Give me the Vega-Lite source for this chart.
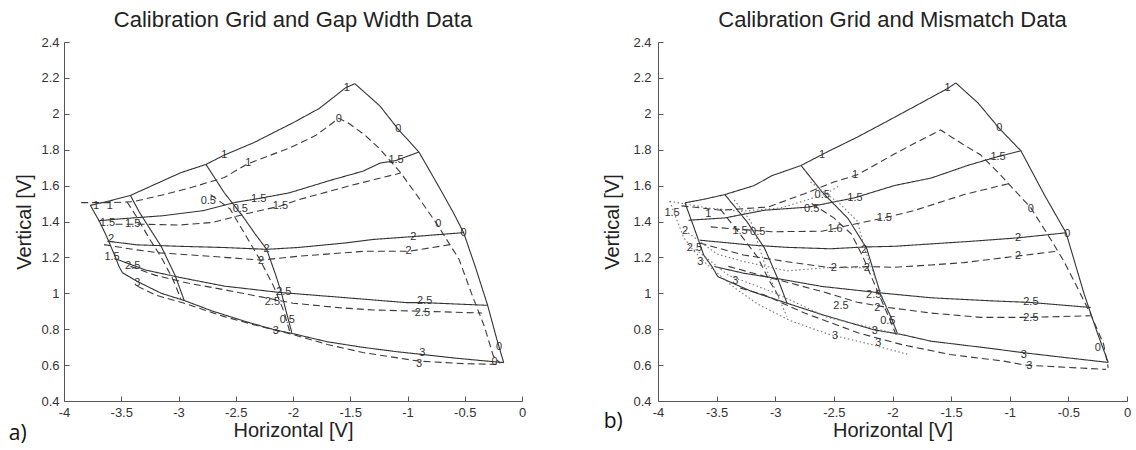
{
  "$schema": "https://vega.github.io/schema/vega-lite/v6.json",
  "background": "white",
  "padding": {"left": 8, "top": 9, "right": 2, "bottom": 2},
  "bounds": "flush",
  "spacing": 136,
  "config": {
    "view": {"stroke": null},
    "axis": {
      "grid": false,
      "domainColor": "#555",
      "tickColor": "#555",
      "tickSize": -5,
      "labelFont": "Liberation Sans",
      "labelFontSize": 13,
      "labelColor": "#333",
      "labelFlush": false,
      "labelOverlap": false,
      "titleFont": "Liberation Sans",
      "titleFontSize": 20,
      "titleFontWeight": "normal",
      "titleColor": "#222"
    },
    "title": {"font": "Liberation Sans", "fontSize": 22, "fontWeight": "normal", "color": "#222", "anchor": "middle", "frame": "group", "offset": 4}
  },
  "datasets": {
    "lines": [
      {"panel":"a","line":"top","set":"grid","n":1,"x":-3.77,"y":1.49},
      {"panel":"a","line":"top","set":"grid","n":2,"x":-3.6,"y":1.515},
      {"panel":"a","line":"top","set":"grid","n":3,"x":-3.42,"y":1.545},
      {"panel":"a","line":"top","set":"grid","n":4,"x":-3.23,"y":1.6},
      {"panel":"a","line":"top","set":"grid","n":5,"x":-2.98,"y":1.672},
      {"panel":"a","line":"top","set":"grid","n":6,"x":-2.76,"y":1.718},
      {"panel":"a","line":"top","set":"grid","n":7,"x":-2.6,"y":1.77},
      {"panel":"a","line":"top","set":"grid","n":8,"x":-2.34,"y":1.84},
      {"panel":"a","line":"top","set":"grid","n":9,"x":-2.0,"y":1.95},
      {"panel":"a","line":"top","set":"grid","n":10,"x":-1.77,"y":2.03},
      {"panel":"a","line":"top","set":"grid","n":11,"x":-1.54,"y":2.145},
      {"panel":"a","line":"top","set":"grid","n":12,"x":-1.46,"y":2.168},
      {"panel":"a","line":"right","set":"grid","n":1,"x":-1.46,"y":2.168},
      {"panel":"a","line":"right","set":"grid","n":2,"x":-1.24,"y":2.043},
      {"panel":"a","line":"right","set":"grid","n":3,"x":-1.08,"y":1.913},
      {"panel":"a","line":"right","set":"grid","n":4,"x":-0.9,"y":1.787},
      {"panel":"a","line":"right","set":"grid","n":5,"x":-0.73,"y":1.598},
      {"panel":"a","line":"right","set":"grid","n":6,"x":-0.6,"y":1.45},
      {"panel":"a","line":"right","set":"grid","n":7,"x":-0.51,"y":1.338},
      {"panel":"a","line":"right","set":"grid","n":8,"x":-0.41,"y":1.152},
      {"panel":"a","line":"right","set":"grid","n":9,"x":-0.3,"y":0.933},
      {"panel":"a","line":"right","set":"grid","n":10,"x":-0.22,"y":0.744},
      {"panel":"a","line":"right","set":"grid","n":11,"x":-0.16,"y":0.614},
      {"panel":"a","line":"left","set":"grid","n":1,"x":-3.77,"y":1.49},
      {"panel":"a","line":"left","set":"grid","n":2,"x":-3.69,"y":1.4},
      {"panel":"a","line":"left","set":"grid","n":3,"x":-3.63,"y":1.32},
      {"panel":"a","line":"left","set":"grid","n":4,"x":-3.59,"y":1.26},
      {"panel":"a","line":"left","set":"grid","n":5,"x":-3.55,"y":1.2},
      {"panel":"a","line":"left","set":"grid","n":6,"x":-3.52,"y":1.15},
      {"panel":"a","line":"left","set":"grid","n":7,"x":-3.49,"y":1.115},
      {"panel":"a","line":"bottom","set":"grid","n":1,"x":-3.49,"y":1.115},
      {"panel":"a","line":"bottom","set":"grid","n":2,"x":-3.36,"y":1.066},
      {"panel":"a","line":"bottom","set":"grid","n":3,"x":-3.15,"y":1.0},
      {"panel":"a","line":"bottom","set":"grid","n":4,"x":-2.95,"y":0.96},
      {"panel":"a","line":"bottom","set":"grid","n":5,"x":-2.7,"y":0.9},
      {"panel":"a","line":"bottom","set":"grid","n":6,"x":-2.4,"y":0.84},
      {"panel":"a","line":"bottom","set":"grid","n":7,"x":-2.15,"y":0.795},
      {"panel":"a","line":"bottom","set":"grid","n":8,"x":-2.0,"y":0.775},
      {"panel":"a","line":"bottom","set":"grid","n":9,"x":-1.7,"y":0.73},
      {"panel":"a","line":"bottom","set":"grid","n":10,"x":-1.4,"y":0.7},
      {"panel":"a","line":"bottom","set":"grid","n":11,"x":-1.1,"y":0.675},
      {"panel":"a","line":"bottom","set":"grid","n":12,"x":-0.88,"y":0.66},
      {"panel":"a","line":"bottom","set":"grid","n":13,"x":-0.6,"y":0.64},
      {"panel":"a","line":"bottom","set":"grid","n":14,"x":-0.3,"y":0.622},
      {"panel":"a","line":"bottom","set":"grid","n":15,"x":-0.16,"y":0.614},
      {"panel":"a","line":"v2","set":"grid","n":1,"x":-3.42,"y":1.545},
      {"panel":"a","line":"v2","set":"grid","n":2,"x":-3.34,"y":1.45},
      {"panel":"a","line":"v2","set":"grid","n":3,"x":-3.27,"y":1.38},
      {"panel":"a","line":"v2","set":"grid","n":4,"x":-3.15,"y":1.26},
      {"panel":"a","line":"v2","set":"grid","n":5,"x":-3.03,"y":1.1},
      {"panel":"a","line":"v2","set":"grid","n":6,"x":-2.95,"y":0.96},
      {"panel":"a","line":"v3","set":"grid","n":1,"x":-2.76,"y":1.718},
      {"panel":"a","line":"v3","set":"grid","n":2,"x":-2.6,"y":1.56},
      {"panel":"a","line":"v3","set":"grid","n":3,"x":-2.44,"y":1.43},
      {"panel":"a","line":"v3","set":"grid","n":4,"x":-2.33,"y":1.33},
      {"panel":"a","line":"v3","set":"grid","n":5,"x":-2.23,"y":1.245},
      {"panel":"a","line":"v3","set":"grid","n":6,"x":-2.15,"y":1.1},
      {"panel":"a","line":"v3","set":"grid","n":7,"x":-2.1,"y":1.0},
      {"panel":"a","line":"v3","set":"grid","n":8,"x":-2.06,"y":0.9},
      {"panel":"a","line":"v3","set":"grid","n":9,"x":-2.01,"y":0.78},
      {"panel":"a","line":"h15","set":"grid","n":1,"x":-3.7,"y":1.404},
      {"panel":"a","line":"h15","set":"grid","n":2,"x":-3.5,"y":1.415},
      {"panel":"a","line":"h15","set":"grid","n":3,"x":-3.14,"y":1.432},
      {"panel":"a","line":"h15","set":"grid","n":4,"x":-2.79,"y":1.46},
      {"panel":"a","line":"h15","set":"grid","n":5,"x":-2.5,"y":1.507},
      {"panel":"a","line":"h15","set":"grid","n":6,"x":-2.3,"y":1.528},
      {"panel":"a","line":"h15","set":"grid","n":7,"x":-2.03,"y":1.56},
      {"panel":"a","line":"h15","set":"grid","n":8,"x":-1.67,"y":1.63},
      {"panel":"a","line":"h15","set":"grid","n":9,"x":-1.39,"y":1.68},
      {"panel":"a","line":"h15","set":"grid","n":10,"x":-1.24,"y":1.725},
      {"panel":"a","line":"h15","set":"grid","n":11,"x":-1.1,"y":1.74},
      {"panel":"a","line":"h15","set":"grid","n":12,"x":-0.9,"y":1.787},
      {"panel":"a","line":"h2","set":"grid","n":1,"x":-3.62,"y":1.29},
      {"panel":"a","line":"h2","set":"grid","n":2,"x":-3.36,"y":1.27},
      {"panel":"a","line":"h2","set":"grid","n":3,"x":-3.0,"y":1.262},
      {"panel":"a","line":"h2","set":"grid","n":4,"x":-2.6,"y":1.255},
      {"panel":"a","line":"h2","set":"grid","n":5,"x":-2.23,"y":1.245},
      {"panel":"a","line":"h2","set":"grid","n":6,"x":-1.96,"y":1.255},
      {"panel":"a","line":"h2","set":"grid","n":7,"x":-1.55,"y":1.28},
      {"panel":"a","line":"h2","set":"grid","n":8,"x":-1.3,"y":1.3},
      {"panel":"a","line":"h2","set":"grid","n":9,"x":-0.95,"y":1.316},
      {"panel":"a","line":"h2","set":"grid","n":10,"x":-0.51,"y":1.338},
      {"panel":"a","line":"h25","set":"grid","n":1,"x":-3.54,"y":1.19},
      {"panel":"a","line":"h25","set":"grid","n":2,"x":-3.29,"y":1.13},
      {"panel":"a","line":"h25","set":"grid","n":3,"x":-3.0,"y":1.09},
      {"panel":"a","line":"h25","set":"grid","n":4,"x":-2.6,"y":1.04},
      {"panel":"a","line":"h25","set":"grid","n":5,"x":-2.12,"y":1.005},
      {"panel":"a","line":"h25","set":"grid","n":6,"x":-1.55,"y":0.976},
      {"panel":"a","line":"h25","set":"grid","n":7,"x":-1.01,"y":0.948},
      {"panel":"a","line":"h25","set":"grid","n":8,"x":-0.86,"y":0.948},
      {"panel":"a","line":"h25","set":"grid","n":9,"x":-0.3,"y":0.933},
      {"panel":"a","line":"d10","set":"data1","n":1,"x":-3.85,"y":1.505},
      {"panel":"a","line":"d10","set":"data1","n":2,"x":-3.6,"y":1.505},
      {"panel":"a","line":"d10","set":"data1","n":3,"x":-3.4,"y":1.51},
      {"panel":"a","line":"d10","set":"data1","n":4,"x":-3.16,"y":1.545},
      {"panel":"a","line":"d10","set":"data1","n":5,"x":-2.91,"y":1.585},
      {"panel":"a","line":"d10","set":"data1","n":6,"x":-2.6,"y":1.645},
      {"panel":"a","line":"d10","set":"data1","n":7,"x":-2.4,"y":1.72},
      {"panel":"a","line":"d10","set":"data1","n":8,"x":-2.03,"y":1.81},
      {"panel":"a","line":"d10","set":"data1","n":9,"x":-1.8,"y":1.88},
      {"panel":"a","line":"d10","set":"data1","n":10,"x":-1.6,"y":1.975},
      {"panel":"a","line":"d10","set":"data1","n":11,"x":-1.52,"y":1.95},
      {"panel":"a","line":"d10","set":"data1","n":12,"x":-1.37,"y":1.88},
      {"panel":"a","line":"d10","set":"data1","n":13,"x":-1.24,"y":1.803},
      {"panel":"a","line":"d10","set":"data1","n":14,"x":-1.06,"y":1.672},
      {"panel":"a","line":"d10","set":"data1","n":15,"x":-0.9,"y":1.53},
      {"panel":"a","line":"d10","set":"data1","n":16,"x":-0.74,"y":1.383},
      {"panel":"a","line":"d10","set":"data1","n":17,"x":-0.55,"y":1.19},
      {"panel":"a","line":"d10","set":"data1","n":18,"x":-0.43,"y":0.98},
      {"panel":"a","line":"d10","set":"data1","n":19,"x":-0.33,"y":0.818},
      {"panel":"a","line":"d10","set":"data1","n":20,"x":-0.25,"y":0.65},
      {"panel":"a","line":"d10","set":"data1","n":21,"x":-0.19,"y":0.61},
      {"panel":"a","line":"d15","set":"data1","n":1,"x":-3.55,"y":1.385},
      {"panel":"a","line":"d15","set":"data1","n":2,"x":-3.33,"y":1.385},
      {"panel":"a","line":"d15","set":"data1","n":3,"x":-3.0,"y":1.38},
      {"panel":"a","line":"d15","set":"data1","n":4,"x":-2.7,"y":1.395},
      {"panel":"a","line":"d15","set":"data1","n":5,"x":-2.43,"y":1.44},
      {"panel":"a","line":"d15","set":"data1","n":6,"x":-2.11,"y":1.486},
      {"panel":"a","line":"d15","set":"data1","n":7,"x":-1.96,"y":1.52},
      {"panel":"a","line":"d15","set":"data1","n":8,"x":-1.5,"y":1.6},
      {"panel":"a","line":"d15","set":"data1","n":9,"x":-1.06,"y":1.67},
      {"panel":"a","line":"d2","set":"data1","n":1,"x":-3.65,"y":1.271},
      {"panel":"a","line":"d2","set":"data1","n":2,"x":-3.4,"y":1.245},
      {"panel":"a","line":"d2","set":"data1","n":3,"x":-3.16,"y":1.225},
      {"panel":"a","line":"d2","set":"data1","n":4,"x":-2.72,"y":1.206},
      {"panel":"a","line":"d2","set":"data1","n":5,"x":-2.28,"y":1.185},
      {"panel":"a","line":"d2","set":"data1","n":6,"x":-1.96,"y":1.206},
      {"panel":"a","line":"d2","set":"data1","n":7,"x":-1.38,"y":1.234},
      {"panel":"a","line":"d2","set":"data1","n":8,"x":-0.99,"y":1.234},
      {"panel":"a","line":"d2","set":"data1","n":9,"x":-0.63,"y":1.271},
      {"panel":"a","line":"d25","set":"data1","n":1,"x":-3.42,"y":1.15},
      {"panel":"a","line":"d25","set":"data1","n":2,"x":-3.2,"y":1.1},
      {"panel":"a","line":"d25","set":"data1","n":3,"x":-2.92,"y":1.057},
      {"panel":"a","line":"d25","set":"data1","n":4,"x":-2.6,"y":1.02},
      {"panel":"a","line":"d25","set":"data1","n":5,"x":-2.28,"y":0.98},
      {"panel":"a","line":"d25","set":"data1","n":6,"x":-2.0,"y":0.945},
      {"panel":"a","line":"d25","set":"data1","n":7,"x":-1.6,"y":0.92},
      {"panel":"a","line":"d25","set":"data1","n":8,"x":-1.3,"y":0.907},
      {"panel":"a","line":"d25","set":"data1","n":9,"x":-0.87,"y":0.9},
      {"panel":"a","line":"d25","set":"data1","n":10,"x":-0.35,"y":0.89},
      {"panel":"a","line":"d3","set":"data1","n":1,"x":-3.36,"y":1.04},
      {"panel":"a","line":"d3","set":"data1","n":2,"x":-3.2,"y":0.99},
      {"panel":"a","line":"d3","set":"data1","n":3,"x":-2.95,"y":0.945},
      {"panel":"a","line":"d3","set":"data1","n":4,"x":-2.6,"y":0.87},
      {"panel":"a","line":"d3","set":"data1","n":5,"x":-2.28,"y":0.814},
      {"panel":"a","line":"d3","set":"data1","n":6,"x":-2.0,"y":0.77},
      {"panel":"a","line":"d3","set":"data1","n":7,"x":-1.7,"y":0.715},
      {"panel":"a","line":"d3","set":"data1","n":8,"x":-1.39,"y":0.67},
      {"panel":"a","line":"d3","set":"data1","n":9,"x":-0.9,"y":0.622},
      {"panel":"a","line":"d3","set":"data1","n":10,"x":-0.5,"y":0.608},
      {"panel":"a","line":"d3","set":"data1","n":11,"x":-0.2,"y":0.604},
      {"panel":"a","line":"dv2","set":"data1","n":1,"x":-3.45,"y":1.51},
      {"panel":"a","line":"dv2","set":"data1","n":2,"x":-3.36,"y":1.42},
      {"panel":"a","line":"dv2","set":"data1","n":3,"x":-3.25,"y":1.3},
      {"panel":"a","line":"dv2","set":"data1","n":4,"x":-3.15,"y":1.2},
      {"panel":"a","line":"dv2","set":"data1","n":5,"x":-3.05,"y":1.08},
      {"panel":"a","line":"dv2","set":"data1","n":6,"x":-2.98,"y":0.97},
      {"panel":"a","line":"dv3","set":"data1","n":1,"x":-2.72,"y":1.55},
      {"panel":"a","line":"dv3","set":"data1","n":2,"x":-2.55,"y":1.47},
      {"panel":"a","line":"dv3","set":"data1","n":3,"x":-2.42,"y":1.33},
      {"panel":"a","line":"dv3","set":"data1","n":4,"x":-2.3,"y":1.2},
      {"panel":"a","line":"dv3","set":"data1","n":5,"x":-2.17,"y":1.04},
      {"panel":"a","line":"dv3","set":"data1","n":6,"x":-2.08,"y":0.9},
      {"panel":"a","line":"dv3","set":"data1","n":7,"x":-2.03,"y":0.79},

      {"panel":"b","line":"top","set":"grid","n":1,"x":-3.77,"y":1.504},
      {"panel":"b","line":"top","set":"grid","n":2,"x":-3.6,"y":1.525},
      {"panel":"b","line":"top","set":"grid","n":3,"x":-3.43,"y":1.55},
      {"panel":"b","line":"top","set":"grid","n":4,"x":-3.18,"y":1.6},
      {"panel":"b","line":"top","set":"grid","n":5,"x":-3.03,"y":1.655},
      {"panel":"b","line":"top","set":"grid","n":6,"x":-2.78,"y":1.712},
      {"panel":"b","line":"top","set":"grid","n":7,"x":-2.55,"y":1.79},
      {"panel":"b","line":"top","set":"grid","n":8,"x":-2.3,"y":1.87},
      {"panel":"b","line":"top","set":"grid","n":9,"x":-2.07,"y":1.95},
      {"panel":"b","line":"top","set":"grid","n":10,"x":-1.8,"y":2.045},
      {"panel":"b","line":"top","set":"grid","n":11,"x":-1.53,"y":2.141},
      {"panel":"b","line":"top","set":"grid","n":12,"x":-1.46,"y":2.172},
      {"panel":"b","line":"right","set":"grid","n":1,"x":-1.46,"y":2.172},
      {"panel":"b","line":"right","set":"grid","n":2,"x":-1.27,"y":2.06},
      {"panel":"b","line":"right","set":"grid","n":3,"x":-1.09,"y":1.919},
      {"panel":"b","line":"right","set":"grid","n":4,"x":-0.905,"y":1.794},
      {"panel":"b","line":"right","set":"grid","n":5,"x":-0.706,"y":1.55},
      {"panel":"b","line":"right","set":"grid","n":6,"x":-0.52,"y":1.337},
      {"panel":"b","line":"right","set":"grid","n":7,"x":-0.365,"y":0.995},
      {"panel":"b","line":"right","set":"grid","n":8,"x":-0.25,"y":0.774},
      {"panel":"b","line":"right","set":"grid","n":9,"x":-0.16,"y":0.615},
      {"panel":"b","line":"left","set":"grid","n":1,"x":-3.77,"y":1.504},
      {"panel":"b","line":"left","set":"grid","n":2,"x":-3.69,"y":1.361},
      {"panel":"b","line":"left","set":"grid","n":3,"x":-3.61,"y":1.213},
      {"panel":"b","line":"left","set":"grid","n":4,"x":-3.54,"y":1.149},
      {"panel":"b","line":"left","set":"grid","n":5,"x":-3.49,"y":1.093},
      {"panel":"b","line":"bottom","set":"grid","n":1,"x":-3.49,"y":1.093},
      {"panel":"b","line":"bottom","set":"grid","n":2,"x":-3.2,"y":1.01},
      {"panel":"b","line":"bottom","set":"grid","n":3,"x":-2.9,"y":0.945},
      {"panel":"b","line":"bottom","set":"grid","n":4,"x":-2.6,"y":0.881},
      {"panel":"b","line":"bottom","set":"grid","n":5,"x":-2.16,"y":0.797},
      {"panel":"b","line":"bottom","set":"grid","n":6,"x":-1.92,"y":0.77},
      {"panel":"b","line":"bottom","set":"grid","n":7,"x":-1.67,"y":0.733},
      {"panel":"b","line":"bottom","set":"grid","n":8,"x":-1.2,"y":0.696},
      {"panel":"b","line":"bottom","set":"grid","n":9,"x":-0.87,"y":0.668},
      {"panel":"b","line":"bottom","set":"grid","n":10,"x":-0.5,"y":0.64},
      {"panel":"b","line":"bottom","set":"grid","n":11,"x":-0.16,"y":0.615},
      {"panel":"b","line":"v2","set":"grid","n":1,"x":-3.43,"y":1.55},
      {"panel":"b","line":"v2","set":"grid","n":2,"x":-3.24,"y":1.398},
      {"panel":"b","line":"v2","set":"grid","n":3,"x":-3.09,"y":1.25},
      {"panel":"b","line":"v2","set":"grid","n":4,"x":-2.98,"y":1.084},
      {"panel":"b","line":"v2","set":"grid","n":5,"x":-2.9,"y":0.945},
      {"panel":"b","line":"v3","set":"grid","n":1,"x":-2.78,"y":1.712},
      {"panel":"b","line":"v3","set":"grid","n":2,"x":-2.6,"y":1.564},
      {"panel":"b","line":"v3","set":"grid","n":3,"x":-2.38,"y":1.417},
      {"panel":"b","line":"v3","set":"grid","n":4,"x":-2.22,"y":1.25},
      {"panel":"b","line":"v3","set":"grid","n":5,"x":-2.1,"y":0.992},
      {"panel":"b","line":"v3","set":"grid","n":6,"x":-2.01,"y":0.862},
      {"panel":"b","line":"v3","set":"grid","n":7,"x":-1.96,"y":0.779},
      {"panel":"b","line":"h15","set":"grid","n":1,"x":-3.74,"y":1.407},
      {"panel":"b","line":"h15","set":"grid","n":2,"x":-3.43,"y":1.42},
      {"panel":"b","line":"h15","set":"grid","n":3,"x":-3.09,"y":1.463},
      {"panel":"b","line":"h15","set":"grid","n":4,"x":-2.72,"y":1.48},
      {"panel":"b","line":"h15","set":"grid","n":5,"x":-2.33,"y":1.531},
      {"panel":"b","line":"h15","set":"grid","n":6,"x":-1.98,"y":1.601},
      {"panel":"b","line":"h15","set":"grid","n":7,"x":-1.67,"y":1.642},
      {"panel":"b","line":"h15","set":"grid","n":8,"x":-1.36,"y":1.712},
      {"panel":"b","line":"h15","set":"grid","n":9,"x":-1.1,"y":1.762},
      {"panel":"b","line":"h15","set":"grid","n":10,"x":-0.905,"y":1.794},
      {"panel":"b","line":"h2","set":"grid","n":1,"x":-3.645,"y":1.296},
      {"panel":"b","line":"h2","set":"grid","n":2,"x":-3.21,"y":1.269},
      {"panel":"b","line":"h2","set":"grid","n":3,"x":-2.9,"y":1.256},
      {"panel":"b","line":"h2","set":"grid","n":4,"x":-2.53,"y":1.248},
      {"panel":"b","line":"h2","set":"grid","n":5,"x":-2.24,"y":1.258},
      {"panel":"b","line":"h2","set":"grid","n":6,"x":-1.98,"y":1.262},
      {"panel":"b","line":"h2","set":"grid","n":7,"x":-1.3,"y":1.291},
      {"panel":"b","line":"h2","set":"grid","n":8,"x":-0.93,"y":1.309},
      {"panel":"b","line":"h2","set":"grid","n":9,"x":-0.52,"y":1.337},
      {"panel":"b","line":"h25","set":"grid","n":1,"x":-3.52,"y":1.149},
      {"panel":"b","line":"h25","set":"grid","n":2,"x":-3.27,"y":1.112},
      {"panel":"b","line":"h25","set":"grid","n":3,"x":-3.0,"y":1.084},
      {"panel":"b","line":"h25","set":"grid","n":4,"x":-2.6,"y":1.038},
      {"panel":"b","line":"h25","set":"grid","n":5,"x":-2.07,"y":1.0},
      {"panel":"b","line":"h25","set":"grid","n":6,"x":-1.67,"y":0.975},
      {"panel":"b","line":"h25","set":"grid","n":7,"x":-1.16,"y":0.958},
      {"panel":"b","line":"h25","set":"grid","n":8,"x":-0.82,"y":0.949},
      {"panel":"b","line":"h25","set":"grid","n":9,"x":-0.31,"y":0.921},
      {"panel":"b","line":"d10","set":"data1","n":1,"x":-3.8,"y":1.487},
      {"panel":"b","line":"d10","set":"data1","n":2,"x":-3.46,"y":1.463},
      {"panel":"b","line":"d10","set":"data1","n":3,"x":-3.06,"y":1.481},
      {"panel":"b","line":"d10","set":"data1","n":4,"x":-2.75,"y":1.555},
      {"panel":"b","line":"d10","set":"data1","n":5,"x":-2.5,"y":1.62},
      {"panel":"b","line":"d10","set":"data1","n":6,"x":-2.3,"y":1.66},
      {"panel":"b","line":"d10","set":"data1","n":7,"x":-2.0,"y":1.77},
      {"panel":"b","line":"d10","set":"data1","n":8,"x":-1.82,"y":1.833},
      {"panel":"b","line":"d10","set":"data1","n":9,"x":-1.59,"y":1.91},
      {"panel":"b","line":"d10","set":"data1","n":10,"x":-1.4,"y":1.83},
      {"panel":"b","line":"d10","set":"data1","n":11,"x":-1.25,"y":1.772},
      {"panel":"b","line":"d10","set":"data1","n":12,"x":-1.08,"y":1.66},
      {"panel":"b","line":"d10","set":"data1","n":13,"x":-0.82,"y":1.476},
      {"panel":"b","line":"d10","set":"data1","n":14,"x":-0.65,"y":1.3},
      {"panel":"b","line":"d10","set":"data1","n":15,"x":-0.54,"y":1.18},
      {"panel":"b","line":"d10","set":"data1","n":16,"x":-0.43,"y":1.04},
      {"panel":"b","line":"d10","set":"data1","n":17,"x":-0.31,"y":0.884},
      {"panel":"b","line":"d10","set":"data1","n":18,"x":-0.2,"y":0.718},
      {"panel":"b","line":"d10","set":"data1","n":19,"x":-0.16,"y":0.585},
      {"panel":"b","line":"d15","set":"data1","n":1,"x":-3.55,"y":1.37},
      {"panel":"b","line":"d15","set":"data1","n":2,"x":-3.4,"y":1.361},
      {"panel":"b","line":"d15","set":"data1","n":3,"x":-3.03,"y":1.343},
      {"panel":"b","line":"d15","set":"data1","n":4,"x":-2.6,"y":1.346},
      {"panel":"b","line":"d15","set":"data1","n":5,"x":-2.3,"y":1.389},
      {"panel":"b","line":"d15","set":"data1","n":6,"x":-2.07,"y":1.42},
      {"panel":"b","line":"d15","set":"data1","n":7,"x":-1.82,"y":1.46},
      {"panel":"b","line":"d15","set":"data1","n":8,"x":-1.39,"y":1.55},
      {"panel":"b","line":"d15","set":"data1","n":9,"x":-0.99,"y":1.614},
      {"panel":"b","line":"d2","set":"data1","n":1,"x":-3.645,"y":1.28},
      {"panel":"b","line":"d2","set":"data1","n":2,"x":-3.27,"y":1.213},
      {"panel":"b","line":"d2","set":"data1","n":3,"x":-2.9,"y":1.176},
      {"panel":"b","line":"d2","set":"data1","n":4,"x":-2.53,"y":1.143},
      {"panel":"b","line":"d2","set":"data1","n":5,"x":-2.22,"y":1.149},
      {"panel":"b","line":"d2","set":"data1","n":6,"x":-1.98,"y":1.145},
      {"panel":"b","line":"d2","set":"data1","n":7,"x":-1.67,"y":1.158},
      {"panel":"b","line":"d2","set":"data1","n":8,"x":-1.39,"y":1.171},
      {"panel":"b","line":"d2","set":"data1","n":9,"x":-0.93,"y":1.208},
      {"panel":"b","line":"d2","set":"data1","n":10,"x":-0.59,"y":1.235},
      {"panel":"b","line":"d25","set":"data1","n":1,"x":-3.4,"y":1.15},
      {"panel":"b","line":"d25","set":"data1","n":2,"x":-3.03,"y":1.084},
      {"panel":"b","line":"d25","set":"data1","n":3,"x":-2.6,"y":1.01},
      {"panel":"b","line":"d25","set":"data1","n":4,"x":-2.3,"y":0.95},
      {"panel":"b","line":"d25","set":"data1","n":5,"x":-2.04,"y":0.921},
      {"panel":"b","line":"d25","set":"data1","n":6,"x":-1.67,"y":0.89},
      {"panel":"b","line":"d25","set":"data1","n":7,"x":-1.25,"y":0.866},
      {"panel":"b","line":"d25","set":"data1","n":8,"x":-0.82,"y":0.866},
      {"panel":"b","line":"d25","set":"data1","n":9,"x":-0.31,"y":0.875},
      {"panel":"b","line":"d3","set":"data1","n":1,"x":-3.3,"y":1.03},
      {"panel":"b","line":"d3","set":"data1","n":2,"x":-3.09,"y":0.99},
      {"panel":"b","line":"d3","set":"data1","n":3,"x":-2.75,"y":0.89},
      {"panel":"b","line":"d3","set":"data1","n":4,"x":-2.29,"y":0.779},
      {"panel":"b","line":"d3","set":"data1","n":5,"x":-1.92,"y":0.714},
      {"panel":"b","line":"d3","set":"data1","n":6,"x":-1.51,"y":0.659},
      {"panel":"b","line":"d3","set":"data1","n":7,"x":-1.05,"y":0.622},
      {"panel":"b","line":"d3","set":"data1","n":8,"x":-0.87,"y":0.6},
      {"panel":"b","line":"d3","set":"data1","n":9,"x":-0.18,"y":0.576},
      {"panel":"b","line":"dv2","set":"data1","n":1,"x":-3.47,"y":1.47},
      {"panel":"b","line":"dv2","set":"data1","n":2,"x":-3.3,"y":1.33},
      {"panel":"b","line":"dv2","set":"data1","n":3,"x":-3.15,"y":1.2},
      {"panel":"b","line":"dv2","set":"data1","n":4,"x":-3.05,"y":1.07},
      {"panel":"b","line":"dv2","set":"data1","n":5,"x":-2.95,"y":0.96},
      {"panel":"b","line":"dv3","set":"data1","n":1,"x":-2.69,"y":1.5},
      {"panel":"b","line":"dv3","set":"data1","n":2,"x":-2.5,"y":1.42},
      {"panel":"b","line":"dv3","set":"data1","n":3,"x":-2.35,"y":1.33},
      {"panel":"b","line":"dv3","set":"data1","n":4,"x":-2.25,"y":1.2},
      {"panel":"b","line":"dv3","set":"data1","n":5,"x":-2.12,"y":1.0},
      {"panel":"b","line":"dv3","set":"data1","n":6,"x":-2.02,"y":0.85},
      {"panel":"b","line":"dv3","set":"data1","n":7,"x":-1.97,"y":0.77},
      {"panel":"b","line":"o1","set":"data2","n":1,"x":-3.9,"y":1.513},
      {"panel":"b","line":"o1","set":"data2","n":2,"x":-3.58,"y":1.476},
      {"panel":"b","line":"o1","set":"data2","n":3,"x":-3.29,"y":1.457},
      {"panel":"b","line":"o1","set":"data2","n":4,"x":-2.95,"y":1.476},
      {"panel":"b","line":"o1","set":"data2","n":5,"x":-2.58,"y":1.55},
      {"panel":"b","line":"o1","set":"data2","n":6,"x":-2.45,"y":1.6},
      {"panel":"b","line":"o2","set":"data2","n":1,"x":-3.9,"y":1.513},
      {"panel":"b","line":"o2","set":"data2","n":2,"x":-3.84,"y":1.41},
      {"panel":"b","line":"o2","set":"data2","n":3,"x":-3.78,"y":1.31},
      {"panel":"b","line":"o2","set":"data2","n":4,"x":-3.7,"y":1.24},
      {"panel":"b","line":"o2","set":"data2","n":5,"x":-3.58,"y":1.16},
      {"panel":"b","line":"o2","set":"data2","n":6,"x":-3.35,"y":1.032},
      {"panel":"b","line":"o2","set":"data2","n":7,"x":-3.15,"y":0.94},
      {"panel":"b","line":"o2","set":"data2","n":8,"x":-2.87,"y":0.847},
      {"panel":"b","line":"o2","set":"data2","n":9,"x":-2.555,"y":0.774},
      {"panel":"b","line":"o2","set":"data2","n":10,"x":-2.185,"y":0.715},
      {"panel":"b","line":"o2","set":"data2","n":11,"x":-1.87,"y":0.66},
      {"panel":"b","line":"o3","set":"data2","n":1,"x":-3.68,"y":1.245},
      {"panel":"b","line":"o3","set":"data2","n":2,"x":-3.4,"y":1.1},
      {"panel":"b","line":"o3","set":"data2","n":3,"x":-3.01,"y":1.004},
      {"panel":"b","line":"o3","set":"data2","n":4,"x":-2.555,"y":0.866},
      {"panel":"b","line":"o3","set":"data2","n":5,"x":-2.185,"y":0.81},
      {"panel":"b","line":"o3","set":"data2","n":6,"x":-1.95,"y":0.77},
      {"panel":"b","line":"o4","set":"data2","n":1,"x":-3.77,"y":1.35},
      {"panel":"b","line":"o4","set":"data2","n":2,"x":-3.5,"y":1.22},
      {"panel":"b","line":"o4","set":"data2","n":3,"x":-3.29,"y":1.18},
      {"panel":"b","line":"o4","set":"data2","n":4,"x":-2.9,"y":1.125},
      {"panel":"b","line":"o4","set":"data2","n":5,"x":-2.555,"y":1.143},
      {"panel":"b","line":"o4","set":"data2","n":6,"x":-2.185,"y":1.143},
      {"panel":"b","line":"o5","set":"data2","n":1,"x":-2.7,"y":1.62},
      {"panel":"b","line":"o5","set":"data2","n":2,"x":-2.45,"y":1.5},
      {"panel":"b","line":"o5","set":"data2","n":3,"x":-2.3,"y":1.402},
      {"panel":"b","line":"o5","set":"data2","n":4,"x":-2.24,"y":1.254},
      {"panel":"b","line":"o5","set":"data2","n":5,"x":-2.1,"y":0.995},
      {"panel":"b","line":"o5","set":"data2","n":6,"x":-1.957,"y":0.774},
      {"panel":"b","line":"o6","set":"data2","n":1,"x":-3.35,"y":1.52},
      {"panel":"b","line":"o6","set":"data2","n":2,"x":-3.21,"y":1.402},
      {"panel":"b","line":"o6","set":"data2","n":3,"x":-3.07,"y":1.125},
      {"panel":"b","line":"o6","set":"data2","n":4,"x":-2.9,"y":0.87}
    ],
    "labels": [
      {"panel":"a","text":"1","x":-1.53,"y":2.145},
      {"panel":"a","text":"1","x":-2.6,"y":1.77},
      {"panel":"a","text":"1","x":-2.39,"y":1.725},
      {"panel":"a","text":"1","x":-3.72,"y":1.485},
      {"panel":"a","text":"1","x":-3.6,"y":1.485},
      {"panel":"a","text":"0","x":-1.6,"y":1.97},
      {"panel":"a","text":"0","x":-1.08,"y":1.915},
      {"panel":"a","text":"0","x":-0.73,"y":1.384},
      {"panel":"a","text":"0","x":-0.51,"y":1.338},
      {"panel":"a","text":"0","x":-0.2,"y":0.7},
      {"panel":"a","text":"0","x":-0.24,"y":0.618},
      {"panel":"a","text":"0.5","x":-2.74,"y":1.514},
      {"panel":"a","text":"0.5","x":-2.46,"y":1.47},
      {"panel":"a","text":"1.5","x":-2.3,"y":1.528},
      {"panel":"a","text":"1.5","x":-2.11,"y":1.486},
      {"panel":"a","text":"1.5","x":-1.1,"y":1.74},
      {"panel":"a","text":"1.5","x":-3.62,"y":1.39},
      {"panel":"a","text":"1.5","x":-3.4,"y":1.385},
      {"panel":"a","text":"2","x":-2.23,"y":1.245},
      {"panel":"a","text":"2","x":-2.28,"y":1.18},
      {"panel":"a","text":"2","x":-0.95,"y":1.316},
      {"panel":"a","text":"2","x":-0.99,"y":1.234},
      {"panel":"a","text":"2","x":-3.59,"y":1.3},
      {"panel":"a","text":"2.5","x":-2.08,"y":1.008},
      {"panel":"a","text":"2.5","x":-2.18,"y":0.95},
      {"panel":"a","text":"2.5","x":-0.85,"y":0.957},
      {"panel":"a","text":"2.5","x":-0.87,"y":0.892},
      {"panel":"a","text":"2.5","x":-3.4,"y":1.15},
      {"panel":"a","text":"3","x":-2.15,"y":0.79},
      {"panel":"a","text":"3","x":-0.87,"y":0.667},
      {"panel":"a","text":"3","x":-0.9,"y":0.608},
      {"panel":"a","text":"3","x":-3.36,"y":1.057},
      {"panel":"a","text":"0.5","x":-2.05,"y":0.85},
      {"panel":"a","text":"1.5","x":-3.58,"y":1.2},
      {"panel":"b","text":"1","x":-1.53,"y":2.141},
      {"panel":"b","text":"1","x":-2.6,"y":1.77},
      {"panel":"b","text":"1","x":-2.32,"y":1.66},
      {"panel":"b","text":"1","x":-3.57,"y":1.444},
      {"panel":"b","text":"0","x":-1.09,"y":1.919},
      {"panel":"b","text":"0","x":-0.82,"y":1.472},
      {"panel":"b","text":"0","x":-0.51,"y":1.33},
      {"panel":"b","text":"0","x":-0.25,"y":0.696},
      {"panel":"b","text":"1.5","x":-1.1,"y":1.762},
      {"panel":"b","text":"1.5","x":-2.32,"y":1.53},
      {"panel":"b","text":"1.5","x":-2.07,"y":1.417},
      {"panel":"b","text":"1.6","x":-2.49,"y":1.361},
      {"panel":"b","text":"1.5","x":-3.3,"y":1.346},
      {"panel":"b","text":"0.5","x":-2.69,"y":1.472},
      {"panel":"b","text":"0.5","x":-2.6,"y":1.545},
      {"panel":"b","text":"0.5","x":-3.15,"y":1.343},
      {"panel":"b","text":"2","x":-0.93,"y":1.309},
      {"panel":"b","text":"2","x":-0.93,"y":1.208},
      {"panel":"b","text":"2","x":-2.24,"y":1.24},
      {"panel":"b","text":"2","x":-2.22,"y":1.139},
      {"panel":"b","text":"2","x":-2.5,"y":1.139},
      {"panel":"b","text":"2.5","x":-0.82,"y":0.949},
      {"panel":"b","text":"2.5","x":-0.82,"y":0.862},
      {"panel":"b","text":"2.5","x":-2.16,"y":0.99},
      {"panel":"b","text":"2.5","x":-2.44,"y":0.927},
      {"panel":"b","text":"2","x":-2.13,"y":0.918},
      {"panel":"b","text":"0.5","x":-2.04,"y":0.844},
      {"panel":"b","text":"3","x":-0.88,"y":0.659},
      {"panel":"b","text":"3","x":-0.834,"y":0.594},
      {"panel":"b","text":"3","x":-2.15,"y":0.788},
      {"panel":"b","text":"3","x":-2.12,"y":0.723},
      {"panel":"b","text":"3","x":-2.49,"y":0.76},
      {"panel":"b","text":"1.5","x":-3.88,"y":1.45},
      {"panel":"b","text":"2","x":-3.77,"y":1.346},
      {"panel":"b","text":"2.5","x":-3.69,"y":1.252},
      {"panel":"b","text":"3","x":-3.64,"y":1.175},
      {"panel":"b","text":"3","x":-3.34,"y":1.07}
    ],
    "tags": [
      {"panel":"a","text":"a)","x":-4.4825,"y":0.183},
      {"panel":"b","text":"b)","x":-4.4633,"y":0.248}
    ]
  },
  "hconcat": [
    {
      "width": 458,
      "height": 359,
      "title": {"text": "Calibration Grid and Gap Width Data"},
      "encoding": {
        "x": {"field": "x", "type": "quantitative", "scale": {"domain": [-4, 0], "nice": false, "zero": false},
              "axis": {"title": "Horizontal [V]", "values": [-4, -3.5, -3, -2.5, -2, -1.5, -1, -0.5, 0], "labelExpr": "'' + datum.value", "labelOverlap": false, "labelPadding": 10, "titlePadding": 1}},
        "y": {"field": "y", "type": "quantitative", "scale": {"domain": [0.4, 2.4], "nice": false, "zero": false},
              "axis": {"title": "Vertical [V]", "values": [0.4, 0.6, 0.8, 1, 1.2, 1.4, 1.6, 1.8, 2, 2.2, 2.4], "tickCount": 11, "format": "~g", "labelOverlap": false, "labelPadding": 10, "titlePadding": 6}}
      },
      "layer": [
        {
          "data": {"name": "lines"},
          "transform": [{"filter": "datum.panel === 'a'"}],
          "mark": {"type": "line", "strokeWidth": 1.1},
          "encoding": {
            "detail": {"field": "line"},
            "order": {"field": "n"},
            "strokeDash": {"field": "set", "scale": {"domain": ["grid", "data1", "data2"], "range": [[1, 0], [7, 4], [1.5, 2.5]]}, "legend": null},
            "color": {"field": "set", "scale": {"domain": ["grid", "data1", "data2"], "range": ["#333333", "#3a3a3a", "#777777"]}, "legend": null}
          }
        },
        {
          "data": {"name": "labels"},
          "transform": [{"filter": "datum.panel === 'a'"}],
          "mark": {"type": "text", "font": "Liberation Sans", "fontSize": 11, "color": "#333"},
          "encoding": {"text": {"field": "text"}}
        },
        {
          "data": {"name": "tags"},
          "transform": [{"filter": "datum.panel === 'a'"}],
          "mark": {"type": "text", "font": "Open Sans", "fontSize": 21, "color": "#111", "align": "left", "baseline": "alphabetic"},
          "encoding": {"text": {"field": "text"}}
        }
      ]
    },
    {
      "width": 469,
      "height": 359,
      "title": {"text": "Calibration Grid and Mismatch Data"},
      "encoding": {
        "x": {"field": "x", "type": "quantitative", "scale": {"domain": [-4, 0], "nice": false, "zero": false},
              "axis": {"title": "Horizontal [V]", "values": [-4, -3.5, -3, -2.5, -2, -1.5, -1, -0.5, 0], "labelExpr": "'' + datum.value", "labelOverlap": false, "labelPadding": 10, "titlePadding": 1}},
        "y": {"field": "y", "type": "quantitative", "scale": {"domain": [0.4, 2.4], "nice": false, "zero": false},
              "axis": {"title": "Vertical [V]", "values": [0.4, 0.6, 0.8, 1, 1.2, 1.4, 1.6, 1.8, 2, 2.2, 2.4], "tickCount": 11, "format": "~g", "labelOverlap": false, "labelPadding": 12, "titlePadding": 10}}
      },
      "layer": [
        {
          "data": {"name": "lines"},
          "transform": [{"filter": "datum.panel === 'b'"}],
          "mark": {"type": "line", "strokeWidth": 1.1},
          "encoding": {
            "detail": {"field": "line"},
            "order": {"field": "n"},
            "strokeDash": {"field": "set", "scale": {"domain": ["grid", "data1", "data2"], "range": [[1, 0], [7, 4], [1.5, 2.5]]}, "legend": null},
            "color": {"field": "set", "scale": {"domain": ["grid", "data1", "data2"], "range": ["#333333", "#3a3a3a", "#777777"]}, "legend": null}
          }
        },
        {
          "data": {"name": "labels"},
          "transform": [{"filter": "datum.panel === 'b'"}],
          "mark": {"type": "text", "font": "Liberation Sans", "fontSize": 11, "color": "#333"},
          "encoding": {"text": {"field": "text"}}
        },
        {
          "data": {"name": "tags"},
          "transform": [{"filter": "datum.panel === 'b'"}],
          "mark": {"type": "text", "font": "Open Sans", "fontSize": 21, "color": "#111", "align": "left", "baseline": "alphabetic"},
          "encoding": {"text": {"field": "text"}}
        }
      ]
    }
  ]
}
